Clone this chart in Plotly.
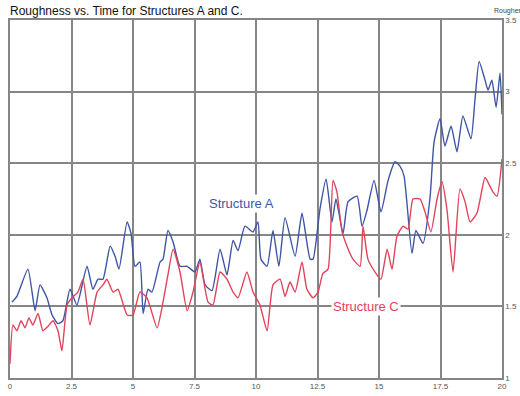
import plotly.graph_objects as go

# Structure A (blue)
time_a = [0.08, 0.28, 0.73, 1.02, 1.22, 1.50, 1.71, 1.95, 2.15, 2.44, 2.72, 3.13, 3.37, 3.58, 3.78,
          4.07, 4.27, 4.43, 4.76, 4.92, 5.08, 5.28, 5.41, 5.61, 5.77, 6.10, 6.22, 6.42, 6.63, 6.91,
          7.20, 7.52, 7.72, 7.93, 8.21, 8.54, 8.82, 9.07, 9.27, 9.55, 9.88, 10.08, 10.20, 10.45,
          10.69, 10.93, 11.18, 11.59, 11.87, 12.20, 12.32, 12.60, 12.85, 13.09, 13.25, 13.54, 13.74,
          14.11, 14.31, 14.51, 14.80, 15.08, 15.37, 15.65, 15.85, 16.02, 16.34, 16.50, 16.79, 17.07,
          17.24, 17.48, 17.68, 17.93, 18.17, 18.41, 18.74, 18.90, 19.07, 19.31, 19.43, 19.59, 19.76,
          19.92, 20.0]
rough_a = [1.53, 1.57, 1.76, 1.47, 1.65, 1.56, 1.44, 1.38, 1.40, 1.62, 1.51, 1.78, 1.62, 1.69, 1.69,
           1.92, 1.85, 1.76, 2.09, 2.01, 1.78, 1.81, 1.45, 1.62, 1.60, 1.81, 1.83, 2.03, 1.95, 1.78,
           1.78, 1.74, 1.83, 1.65, 1.61, 1.90, 1.72, 1.96, 1.89, 2.06, 2.02, 2.09, 1.83, 1.78,
           2.03, 1.78, 2.12, 1.85, 2.15, 1.83, 1.83, 2.18, 2.39, 2.09, 2.25, 2.01, 2.23,
           2.27, 2.06, 2.17, 2.38, 2.16, 2.38, 2.51, 2.48, 2.41, 1.87, 2.03, 1.94, 2.25,
           2.65, 2.81, 2.62, 2.76, 2.58, 2.83, 2.67, 2.94, 3.21, 3.08, 3.01, 3.08, 2.89,
           3.13, 2.84]

# Structure C (red)
time_c = [0.0, 0.12, 0.28, 0.45, 0.61, 0.77, 0.93, 1.14, 1.34, 1.54, 1.75, 1.95, 2.11, 2.32, 2.52,
          2.76, 2.97, 3.25, 3.54, 3.78, 3.94, 4.19, 4.39, 4.76, 5.00, 5.28, 5.57, 5.98, 6.22, 6.42,
          6.63, 6.91, 7.20, 7.44, 7.72, 8.05, 8.25, 8.54, 8.82, 9.07, 9.27, 9.63, 9.88, 10.16, 10.45,
          10.69, 10.98, 11.18, 11.38, 11.59, 11.87, 12.07, 12.32, 12.52, 12.72, 12.93, 13.13, 13.29,
          13.50, 13.70, 13.94, 14.23, 14.35, 14.55, 14.84, 15.08, 15.33, 15.53, 15.73, 15.98, 16.18,
          16.38, 16.67, 16.87, 17.11, 17.36, 17.56, 17.76, 18.01, 18.29, 18.50, 18.70, 18.98, 19.31,
          19.51, 19.63, 19.80, 20.0]
rough_c = [1.10, 1.37, 1.33, 1.40, 1.35, 1.42, 1.37, 1.45, 1.33, 1.36, 1.40, 1.33, 1.19, 1.51, 1.56,
           1.60, 1.69, 1.37, 1.60, 1.65, 1.69, 1.60, 1.62, 1.44, 1.44, 1.60, 1.56, 1.35, 1.53, 1.72,
           1.90, 1.74, 1.47, 1.60, 1.81, 1.53, 1.51, 1.74, 1.69, 1.60, 1.56, 1.74, 1.60, 1.51, 1.33,
           1.65, 1.69, 1.57, 1.67, 1.60, 1.81, 1.62, 1.56, 1.60, 1.73, 1.76, 2.38, 2.30,
           2.02, 1.92, 1.83, 1.78, 2.06, 1.83, 1.74, 1.69, 1.90, 1.76, 1.99, 2.06, 2.04,
           2.25, 2.25, 2.16, 2.02, 2.25, 2.37, 2.18, 1.74, 2.32, 2.23, 2.09, 2.15, 2.40,
           2.34, 2.30, 2.27, 2.53]

x_ticks = [0, 2.5, 5, 7.5, 10, 12.5, 15, 17.5, 20]
x_tick_text = ["0", "2.5", "5", "7.5", "10", "12.5", "15", "17.5", "20"]
y_ticks = [1, 1.5, 2, 2.5, 3, 3.5]
y_tick_text = ["1", "1.5", "2", "2.5", "3", "3.5"]

BLUE = "#3f55a6"
RED = "#e2435a"
GRID = "#868686"
FONT = "Liberation Sans, Arial, sans-serif"

fig = go.Figure()
fig.add_trace(go.Scatter(x=time_a, y=rough_a, mode="lines", name="Structure A",
                         line=dict(color=BLUE, width=1.4, shape="spline", smoothing=0.5)))
fig.add_trace(go.Scatter(x=time_c, y=rough_c, mode="lines", name="Structure C",
                         line=dict(color=RED, width=1.4, shape="spline", smoothing=0.5)))

fig.add_annotation(x=9.43, y=2.22, text="Structure A", showarrow=False,
                   font=dict(family=FONT, size=13, color=BLUE), bgcolor="white")
fig.add_annotation(x=14.47, y=1.5, text="Structure C", showarrow=False,
                   font=dict(family=FONT, size=13, color=RED), bgcolor="white")
fig.add_annotation(xref="paper", yref="paper", x=1.0, y=1.0, yanchor="bottom", yshift=3,
                   text="Rougher", showarrow=False, xanchor="left", xshift=-10,
                   font=dict(family=FONT, size=7, color="#444"))

fig.update_layout(
    width=520, height=396,
    margin=dict(l=10, r=18, t=20, b=18, autoexpand=False),
    paper_bgcolor="white", plot_bgcolor="white",
    showlegend=False,
    title=dict(text="Roughness vs. Time for Structures A and C.", x=10 / 520, xanchor="left",
               y=1 - 11 / 396, yanchor="middle", pad=dict(t=0, l=0),
               font=dict(family=FONT, size=12, color="#111")),
    font=dict(family=FONT, size=8, color="#555"),
)
fig.update_xaxes(range=[0, 20], tickvals=x_ticks, ticktext=x_tick_text, automargin=False,
                 showgrid=True, gridcolor=GRID, gridwidth=1.5, zeroline=False,
                 showline=True, linecolor=GRID, linewidth=1.5, mirror=True,
                 ticks="", tickfont=dict(size=8, color="#555"))
fig.update_yaxes(range=[1, 3.5], tickvals=y_ticks, ticktext=y_tick_text, side="right",
                 automargin=False,
                 showgrid=True, gridcolor=GRID, gridwidth=1.5, zeroline=False,
                 showline=True, linecolor=GRID, linewidth=1.5, mirror=True,
                 ticks="", tickfont=dict(size=8, color="#555"))

# remove the browser's default page margin so the 520x396 figure fills the window exactly
fig.write_html("out.html", config={"displayModeBar": False},
               post_script="document.body.style.margin='0';document.body.style.overflow='hidden';")
